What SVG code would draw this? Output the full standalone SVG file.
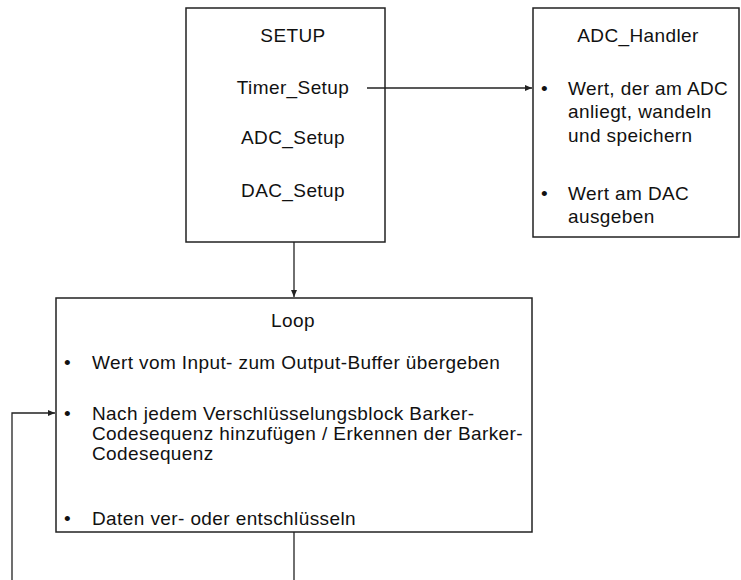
<svg xmlns="http://www.w3.org/2000/svg" width="741" height="580" viewBox="0 0 741 580">
<style>
.box{fill:#fff;stroke:#222;stroke-width:1.5}
.t{font-family:"Liberation Sans",Arial,sans-serif;font-size:19px;letter-spacing:0.4px;fill:#111}
.c{text-anchor:middle}
.ln{fill:none;stroke:#222;stroke-width:1.3}
</style>
<defs>
<marker id="ah" markerWidth="8" markerHeight="8" refX="7" refY="4" orient="auto" markerUnits="userSpaceOnUse">
<path d="M0,1 L7,4 L0,7 z" fill="#222"/>
</marker>
</defs>
<rect width="741" height="580" fill="#fff"/>
<g id="setup">
<rect class="box" x="186" y="8" width="199" height="234"/>
<text class="t c" x="293" y="42">SETUP</text>
<text class="t c" x="293" y="94">Timer_Setup</text>
<text class="t c" x="293" y="144">ADC_Setup</text>
<text class="t c" x="293" y="197">DAC_Setup</text>
</g>
<g id="adc_handler">
<rect class="box" x="533" y="8" width="206" height="229"/>
<text class="t c" x="638" y="42">ADC_Handler</text>
<text class="t" x="541" y="95">•</text>
<text class="t" x="568" y="95">Wert, der am ADC</text>
<text class="t" x="568" y="118">anliegt, wandeln</text>
<text class="t" x="568" y="142">und speichern</text>
<text class="t" x="541" y="200">•</text>
<text class="t" x="568" y="200">Wert am DAC</text>
<text class="t" x="568" y="223">ausgeben</text>
</g>
<g id="loop">
<rect class="box" x="56" y="298" width="476" height="234"/>
<text class="t c" x="293" y="327">Loop</text>
<text class="t" x="64" y="369">•</text>
<text class="t" x="92" y="369">Wert vom Input- zum Output-Buffer übergeben</text>
<text class="t" x="64" y="420">•</text>
<text class="t" x="92" y="420">Nach jedem Verschlüsselungsblock Barker-</text>
<text class="t" x="92" y="440">Codesequenz hinzufügen / Erkennen der Barker-</text>
<text class="t" x="92" y="460">Codesequenz</text>
<text class="t" x="64" y="525">•</text>
<text class="t" x="92" y="525">Daten ver- oder entschlüsseln</text>
</g>
<g id="connectors">
<path class="ln" d="M367,88 H532" marker-end="url(#ah)"/>
<path class="ln" d="M294,242 V297" marker-end="url(#ah)"/>
<path class="ln" d="M294,532 V580"/>
<path class="ln" d="M12,580 V413 H55" marker-end="url(#ah)"/>
</g>
</svg>
